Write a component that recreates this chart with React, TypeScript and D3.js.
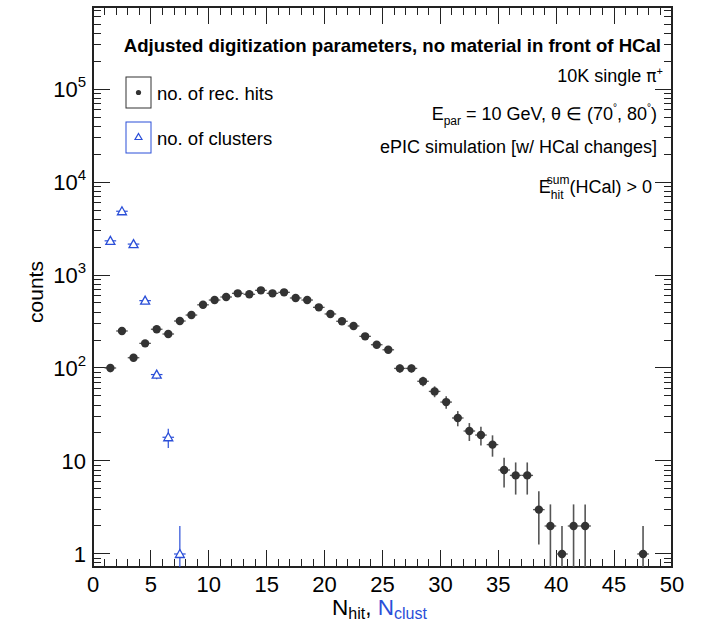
import React from "react";
import * as d3 from "d3";

// ---- data ----
const hitBinLow: number[] = [1,2,3,4,5,6,7,8,9,10,11,12,13,14,15,16,17,18,19,20,21,22,23,24,25,26,27,28,29,30,31,32,33,34,35,36,37,38,39,40,41,42,43,44,45,46,47];
const hitCounts: number[] = [100,250,129,184,261,232,320,371,478,538,580,635,620,684,635,651,566,538,449,381,318,283,219,178,157,99,99,72,56,43,29,21,19,15,8,7,7,3,2,1,2,2,0,0,0,0,1];
const clustBinLow: number[] = [1,2,3,4,5,6,7];
const clustCounts: number[] = [2330,4850,2150,530,85,18,1];
const xTickLabels: number[] = [0,5,10,15,20,25,30,35,40,45,50];
const yMajorTicks: number[] = [1,10,100,1000,10000,100000];
const yTickExp: string[] = ["1","10","2","3","4","5"];
const rightTexts = ["10K single", "E_par", "ePIC simulation [w/ HCal changes]", "E_hit"];

const W = 708, H = 627;
const L = 93, R = 672, T = 7, B = 567;
const BLUE = "#2b4fd8";
const DARK = "#333333";
const FONT = "'Liberation Sans', Arial, Helvetica, sans-serif";

export default function App() {
  const x = d3.scaleLinear().domain([0, 50]).range([L, R]);
  const y = d3.scaleLog().domain([0.7245, 7.62e5]).range([B, T]);
  const yMin = 0.7245;

  const xMinor = d3.range(0, 51, 1);
  const yMinor: number[] = [];
  for (let e = -1; e <= 5; e++) {
    for (let m = 2; m <= 9; m++) {
      const v = m * Math.pow(10, e);
      if (v > yMin && v < 7.62e5) yMinor.push(v);
    }
  }

  const errLo = (n: number) => Math.max(n - Math.sqrt(n), yMin);
  const errHi = (n: number) => n + Math.sqrt(n);

  return (
    <svg width={W} height={H} style={{ position: "absolute", left: 0, top: 0, background: "#fff" }} fontFamily={FONT}>
      <rect x={0} y={0} width={W} height={H} fill="#fff" />
      {/* ticks */}
      <g stroke="#222" strokeWidth={1} shapeRendering="crispEdges">
        {xMinor.map((v) => {
          const len = v % 5 === 0 ? 17 : 8;
          return (
            <g key={"xt" + v}>
              <line x1={x(v)} x2={x(v)} y1={B} y2={B - len} />
              <line x1={x(v)} x2={x(v)} y1={T} y2={T + len} />
            </g>
          );
        })}
        {yMajorTicks.map((v) => (
          <g key={"ym" + v}>
            <line x1={L} x2={L + 17} y1={y(v)} y2={y(v)} />
            <line x1={R} x2={R - 17} y1={y(v)} y2={y(v)} />
          </g>
        ))}
        {yMinor.map((v) => (
          <g key={"yn" + v}>
            <line x1={L} x2={L + 8} y1={y(v)} y2={y(v)} />
            <line x1={R} x2={R - 8} y1={y(v)} y2={y(v)} />
          </g>
        ))}
      </g>
      <rect x={L} y={T} width={R - L} height={B - T} fill="none" stroke="#222" strokeWidth={1.2} shapeRendering="crispEdges" />

      {/* x tick labels */}
      {xTickLabels.map((v) => (
        <text key={"xl" + v} x={x(v)} y={592} fontSize={22} textAnchor="middle" fill="#000">{v}</text>
      ))}
      {/* y tick labels */}
      {yMajorTicks.map((v, i) => (
        <text key={"yl" + v} x={86} y={y(v) + 8} fontSize={22} textAnchor="end" fill="#000">
          {i < 2 ? (
            yTickExp[i]
          ) : (
            <>
              <tspan>10</tspan>
              <tspan fontSize={15} dy={-10}>{yTickExp[i]}</tspan>
            </>
          )}
        </text>
      ))}

      {/* axis titles */}
      <text transform="translate(43,292) rotate(-90)" fontSize={21} textAnchor="middle" fill="#000">counts</text>
      <text x={332} y={615} fontSize={22.5} fill="#000">
        <tspan>N</tspan>
        <tspan fontSize={16} dy={4}>hit</tspan>
        <tspan dy={-4}>, </tspan>
        <tspan fill={BLUE}>N</tspan>
        <tspan fill={BLUE} fontSize={16} dy={4}>clust</tspan>
      </text>

      {/* hits series */}
      <g>
        {hitCounts.map((n, i) => {
          if (n <= 0) return null;
          const lo = hitBinLow[i];
          const cx = x(lo + 0.5);
          const cy = y(n);
          return (
            <g key={"h" + i}>
              <line x1={x(lo)} x2={x(lo + 1)} y1={cy} y2={cy} stroke="#555" strokeWidth={1.3} />
              <line x1={cx} x2={cx} y1={y(errLo(n))} y2={y(errHi(n))} stroke="#555" strokeWidth={1.6} />
              <circle cx={cx} cy={cy} r={4.2} fill={DARK} />
            </g>
          );
        })}
      </g>
      {/* clusters series */}
      <g>
        {clustCounts.map((n, i) => {
          if (n <= 0) return null;
          const lo = clustBinLow[i];
          const cx = x(lo + 0.5);
          const cy = y(n);
          return (
            <g key={"c" + i}>
              <line x1={x(lo)} x2={x(lo + 1)} y1={cy} y2={cy} stroke={BLUE} strokeWidth={1.2} />
              <line x1={cx} x2={cx} y1={y(errLo(n))} y2={y(errHi(n))} stroke={BLUE} strokeWidth={1.2} />
              <path d={`M${cx},${cy - 4.5}L${cx + 4.5},${cy + 3.5}L${cx - 4.5},${cy + 3.5}Z`} fill="#fff" stroke={BLUE} strokeWidth={1.3} />
            </g>
          );
        })}
      </g>

      {/* title */}
      <text x={661} y={52} fontSize={18.6} fontWeight="bold" textAnchor="end" fill="#000">
        Adjusted digitization parameters, no material in front of HCal
      </text>

      {/* legend */}
      <rect x={126} y={77} width={25} height={31} fill="none" stroke={DARK} strokeWidth={1} />
      <circle cx={138.5} cy={92.5} r={2.6} fill={DARK} />
      <text x={157} y={100} fontSize={18.5} fill="#000">no. of rec. hits</text>
      <rect x={126} y={122} width={25} height={31} fill="none" stroke={BLUE} strokeWidth={1} />
      <path d="M138.5,133.5L142,139.5L135,139.5Z" fill="none" stroke={BLUE} strokeWidth={1.2} />
      <text x={157} y={145} fontSize={18.5} fill="#000">no. of clusters</text>

      {/* right annotations */}
      <text x={663} y={82} fontSize={18} textAnchor="end" fill="#000">
        <tspan>{rightTexts[0]} </tspan>
        <tspan fontFamily="'DejaVu Sans', sans-serif" fontSize={17}>π</tspan>
        <tspan fontSize={11} dy={-7}>+</tspan>
      </text>
      <text x={657} y={120} fontSize={18} textAnchor="end" fill="#000">
        <tspan>E</tspan>
        <tspan fontSize={12} dy={5}>par</tspan>
        <tspan dy={-5}> = 10 GeV, θ ∈ (70</tspan>
        <tspan fontSize={10} dy={-9}>°</tspan>
        <tspan dy={9}>, 80</tspan>
        <tspan fontSize={10} dy={-9}>°</tspan>
        <tspan dy={9}>)</tspan>
      </text>
      <text x={657} y={153} fontSize={18} textAnchor="end" fill="#000">{rightTexts[2]}</text>
      <text x={652} y={193} fontSize={18} textAnchor="end" fill="#000">
        <tspan>E</tspan>
        <tspan fontSize={12} dy={6}>hit</tspan>
        <tspan fontSize={12} dx={-16.7} dy={-15}>sum</tspan>
        <tspan dy={9}>(HCal) &gt; 0</tspan>
      </text>
    </svg>
  );
}
